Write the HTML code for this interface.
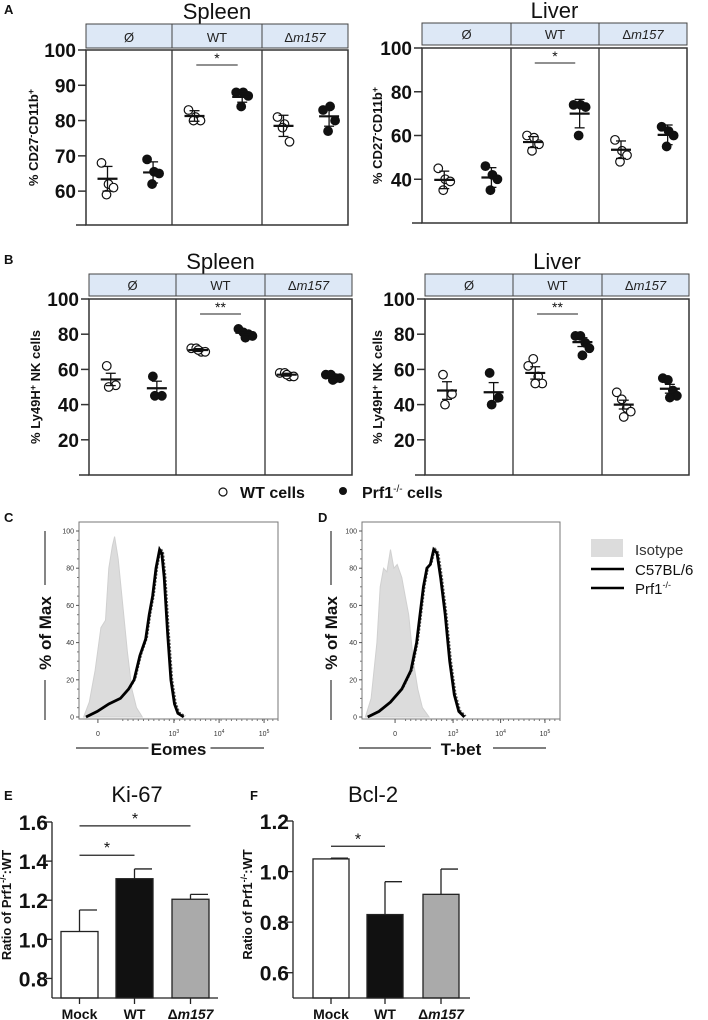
<!DOCTYPE html>
<html><head><meta charset="utf-8"><style>
body{margin:0;background:#fff;}
svg{display:block;font-family:"Liberation Sans",Arial,sans-serif;}
</style></head><body>
<svg id="fig" width="708" height="1020" viewBox="0 0 708 1020" xmlns="http://www.w3.org/2000/svg"></svg>
<script>
// ---------- Panel A/B scatter data ----------
const groupLabels = ["Ø", "WT", "Δm157"];
const aSpleenOpen = [[68, 62, 61, 59], [83, 81, 80, 80], [81, 79, 74, 78]];
const aSpleenFilled = [[69, 65.5, 65, 62], [88, 88, 87, 84], [83, 84, 80, 77]];
const aSpleenOpenMean = [63.5, 81.3, 78.5];
const aSpleenOpenErr = [3.5, 1.5, 3];
const aSpleenFilledMean = [65.3, 86.7, 81.2];
const aSpleenFilledErr = [3, 1.5, 2.8];
const aLiverOpen = [[45, 40, 39, 35], [60, 59, 56, 53], [58, 53, 51, 48]];
const aLiverFilled = [[46, 42, 40, 35], [74, 74, 73, 60], [64, 62, 60, 55]];
const aLiverOpenMean = [39.7, 57, 53.5];
const aLiverOpenErr = [4, 2.5, 4];
const aLiverFilledMean = [40.8, 70, 60.3];
const aLiverFilledErr = [4.5, 6.5, 4.5];
const bSpleenOpen = [[62, 51, 50], [72, 72, 70, 70, 71], [58, 58, 56, 56, 57]];
const bSpleenFilled = [[56, 45, 45], [83, 81, 80, 79, 78], [57, 57, 55, 55, 54]];
const bSpleenOpenMean = [54.3, 71, 57];
const bSpleenOpenErr = [3.5, 0.8, 0.8];
const bSpleenFilledMean = [49.3, 80.8, 56];
const bSpleenFilledErr = [4, 1, 0.6];
const bLiverOpen = [[57, 46, 40], [62, 66, 56, 52, 52], [47, 43, 38, 36, 33]];
const bLiverFilled = [[58, 44, 40], [79, 79, 75, 72, 68], [55, 54, 48, 45, 44]];
const bLiverOpenMean = [48, 58, 40];
const bLiverOpenErr = [5, 3.5, 2.5];
const bLiverFilledMean = [47, 75.5, 49];
const bLiverFilledErr = [5.5, 2.5, 2.5];
const aSpleenTicks = [60, 70, 80, 90, 100];
const aLiverTicks = [40, 60, 80, 100];
const bTicks = [20, 40, 60, 80, 100];

// ---------- Histogram data (channel 0-100 across axis, % of max) ----------
const cIsoX = [2.3, 5.2, 8.1, 11, 13.3, 15, 16.8, 17.9, 19.7, 22, 24.3, 26.6, 28.9, 31.8];
const cIsoY = [0, 8, 25, 48, 52, 80, 92, 97, 85, 60, 35, 15, 5, 0];
const cStainX = [3.5, 9.2, 15, 20.8, 24.9, 27.7, 30.6, 33.5, 35.3, 37, 38.7, 40.5, 41.6, 42.8, 44.5, 46.2, 48, 49.7, 52.6];
const cStainY = [0, 3, 7, 10, 15, 20, 33, 42, 55, 65, 80, 90, 88, 75, 45, 20, 7, 2, 0];
const dIsoX = [1.7, 4.6, 7.5, 9.2, 10.9, 12.6, 14.4, 16.1, 17.8, 20.1, 21.8, 23.6, 25.9, 28.2, 30.5, 33.9];
const dIsoY = [0, 10, 40, 70, 80, 78, 90, 80, 82, 75, 65, 55, 30, 15, 5, 0];
const dStainX = [2.9, 8.6, 14.4, 20.1, 24.7, 27.6, 29.3, 31, 32.8, 34.5, 36.2, 37.9, 39.7, 42, 44.3, 46.6, 48.9, 51.7];
const dStainY = [0, 3, 8, 15, 25, 40, 55, 70, 80, 82, 90, 88, 75, 55, 30, 12, 3, 0];
const histTicks = [0, 20, 40, 60, 80, 100];

// ---------- Bar data ----------
const barCats = ["Mock", "WT", "Δm157"];
const ki67Values = [1.04, 1.31, 1.205];
const ki67Err = [0.11, 0.05, 0.025];
const ki67Ticks = [0.8, 1.0, 1.2, 1.4, 1.6];
const bcl2Values = [1.05, 0.83, 0.91];
const bcl2Err = [0.003, 0.13, 0.1];
const bcl2Ticks = [0.6, 0.8, 1.0, 1.2];

const NS = "http://www.w3.org/2000/svg";
const svg = document.getElementById("fig");
function mk(tag, attrs, parent, text) {
  const e = document.createElementNS(NS, tag);
  for (const k in attrs) e.setAttribute(k, attrs[k]);
  if (text !== undefined) e.textContent = text;
  (parent || svg).appendChild(e);
  return e;
}
function txt(x, y, s, size, opts, parent) {
  const a = Object.assign({x: x, y: y, "font-size": size, fill: "#111"}, opts || {});
  return mk("text", a, parent, s);
}

const jitter = {3: [-4, 5, -2], 4: [-6, 1, 6, -1], 5: [-7, -2, 3, 7, 0]};

function scatterPanel(name, cfg) {
  const g = mk("g", {});
  
  
  const {x0, x1, hy0, hy1, py0, py1, dmin, dmax, ticks, title, ytitle, divs} = cfg;
  const ys = v => py1 - (v - dmin) / (dmax - dmin) * (py1 - py0);
  const t = txt((x0 + x1) / 2, hy0 - 5, title, 22, {"text-anchor": "middle"}, g);
  
  
  const bounds = [x0, divs[0], divs[1], x1];
  for (let i = 0; i < 3; i++) {
    const r = mk("rect", {x: bounds[i], y: hy0, width: bounds[i + 1] - bounds[i], height: hy1 - hy0, fill: "#dde8f6", stroke: "#444", "stroke-width": 1}, g);
    
    
    const lab = groupLabels[i];
    const cx = (bounds[i] + bounds[i + 1]) / 2;
    const tl = mk("text", {x: cx, y: hy1 - 6, "font-size": 13, "text-anchor": "middle", fill: "#222"}, g);
    
    
    if (lab.startsWith("Δ")) {
      mk("tspan", {}, tl, "Δ");
      mk("tspan", {"font-style": "italic"}, tl, lab.slice(1));
    } else tl.textContent = lab;
  }
  const box = mk("rect", {x: x0, y: py0, width: x1 - x0, height: py1 - py0, fill: "none", stroke: "#333", "stroke-width": 1.5}, g);
  
  
  divs.forEach(d => {
    const l = mk("line", {x1: d, x2: d, y1: py0, y2: py1, stroke: "#333", "stroke-width": 1.3}, g);
    
    
  });
  mk("line", {x1: x0 - 10, x2: x0, y1: py1, y2: py1, stroke: "#333", "stroke-width": 1.5}, g);
  ticks.forEach(v => {
    const y = ys(v);
    mk("line", {x1: x0 - 8, x2: x0, y1: y, y2: y, stroke: "#333", "stroke-width": 1.5}, g);
    const tk = txt(x0 - 10, y + 7, String(v), 19, {"text-anchor": "end", "font-weight": "bold"}, g);
    
    
  });
  const yt = mk("text", {x: 0, y: 0, "font-size": 13, "font-weight": "bold", "text-anchor": "middle", fill: "#111", transform: `translate(${cfg.ytx},${(py0 + py1) / 2}) rotate(-90)`}, g);
  
  
  ytitle.forEach(p => mk("tspan", {"font-size": p[2], dy: p[1]}, yt, p[0]));
  const series = [[cfg.open, cfg.openMean, cfg.openErr, 0.25, false], [cfg.filled, cfg.filledMean, cfg.filledErr, 0.78, true]];
  for (let i = 0; i < 3; i++) {
    const w = bounds[i + 1] - bounds[i];
    series.forEach(([pts, mean, err, frac, filled]) => {
      const cx = bounds[i] + w * frac;
      const arr = pts[i];
      const jt = jitter[arr.length];
      arr.forEach((v, k) => {
        const c = mk("circle", {cx: cx + jt[k], cy: ys(v), r: 4.3, fill: filled ? "#111" : "#fff", stroke: "#111", "stroke-width": 1.2}, g);
        
        
      });
      const my = ys(mean[i]);
      const ml = mk("line", {x1: cx - 10, x2: cx + 10, y1: my, y2: my, stroke: "#111", "stroke-width": 2.2}, g);
      
      
      const e1 = ys(mean[i] + err[i]), e2 = ys(mean[i] - err[i]);
      mk("line", {x1: cx, x2: cx, y1: e1, y2: e2, stroke: "#111", "stroke-width": 1.3}, g);
      mk("line", {x1: cx - 5, x2: cx + 5, y1: e1, y2: e1, stroke: "#111", "stroke-width": 1.3}, g);
      mk("line", {x1: cx - 5, x2: cx + 5, y1: e2, y2: e2, stroke: "#111", "stroke-width": 1.3}, g);
    });
  }
  const w = divs[1] - divs[0];
  const sy = py0 + 15;
  mk("line", {x1: divs[0] + w * 0.27, x2: divs[0] + w * 0.73, y1: sy, y2: sy, stroke: "#222", "stroke-width": 1}, g);
  const st = txt(divs[0] + w / 2, sy - 2, cfg.sig, 14, {"text-anchor": "middle"}, g);
  
  
}

const ytA = [["% CD27", 0, 13], ["-", -4, 9], ["CD11b", 4, 13], ["+", -4, 9]];
const ytB = [["% Ly49H", 0, 13], ["+", -4, 9], [" NK cells", 4, 13]];
scatterPanel("panel-a-spleen", {x0: 86, x1: 348, hy0: 24, hy1: 48, py0: 50, py1: 225, dmin: 50.4, dmax: 100, ticks: aSpleenTicks, title: "Spleen", ytitle: ytA, ytx: 38, divs: [172, 262], open: aSpleenOpen, filled: aSpleenFilled, openMean: aSpleenOpenMean, openErr: aSpleenOpenErr, filledMean: aSpleenFilledMean, filledErr: aSpleenFilledErr, sig: "*"});
scatterPanel("panel-a-liver", {x0: 422, x1: 687, hy0: 23, hy1: 45, py0: 48, py1: 223, dmin: 20, dmax: 100, ticks: aLiverTicks, title: "Liver", ytitle: ytA, ytx: 382, divs: [511, 599], open: aLiverOpen, filled: aLiverFilled, openMean: aLiverOpenMean, openErr: aLiverOpenErr, filledMean: aLiverFilledMean, filledErr: aLiverFilledErr, sig: "*"});
scatterPanel("panel-b-spleen", {x0: 89, x1: 352, hy0: 274, hy1: 296, py0: 299, py1: 475, dmin: 0, dmax: 100, ticks: bTicks, title: "Spleen", ytitle: ytB, ytx: 40, divs: [176, 265], open: bSpleenOpen, filled: bSpleenFilled, openMean: bSpleenOpenMean, openErr: bSpleenOpenErr, filledMean: bSpleenFilledMean, filledErr: bSpleenFilledErr, sig: "**"});
scatterPanel("panel-b-liver", {x0: 425, x1: 689, hy0: 274, hy1: 296, py0: 299, py1: 475, dmin: 0, dmax: 100, ticks: bTicks, title: "Liver", ytitle: ytB, ytx: 382, divs: [513, 602], open: bLiverOpen, filled: bLiverFilled, openMean: bLiverOpenMean, openErr: bLiverOpenErr, filledMean: bLiverFilledMean, filledErr: bLiverFilledErr, sig: "**"});

[["A", 4, 14], ["B", 4, 264], ["C", 4, 522], ["D", 318, 522], ["E", 4, 800], ["F", 250, 800]].forEach(([s, x, y]) => {
  const t = txt(x, y, s, 13, {"font-weight": "bold"});
  
  
});

const lg = mk("g", {});


mk("circle", {cx: 223, cy: 492, r: 4, fill: "#fff", stroke: "#111", "stroke-width": 1.2}, lg);
txt(240, 498, "WT cells", 16, {"font-weight": "bold"}, lg);
mk("circle", {cx: 343, cy: 491, r: 4, fill: "#111"}, lg);
const pl = txt(362, 498, "Prf1", 16, {"font-weight": "bold"}, lg);
mk("tspan", {"font-size": 10, dy: -6, "font-weight": "normal"}, pl, "-/-");
mk("tspan", {dy: 6}, pl, " cells");

// ---------- histograms ----------
function histPanel(name, cfg) {
  const g = mk("g", {});
  
  
  const {x0, x1, y0, y1, xlabel} = cfg;
  const ys = v => 717 - v / 100 * (717 - 531);
  const xs = c => x0 + c / 100 * (x1 - x0);
  const poly = (X, Y) => X.map((c, i) => `${xs(c).toFixed(1)},${ys(Y[i]).toFixed(1)}`).join(" ");
  const iso = mk("polygon", {points: poly(cfg.isoX, cfg.isoY), fill: "#dcdcdc", stroke: "#d0d0d0"}, g);
  
  
  const l1 = mk("polyline", {points: poly(cfg.stX, cfg.stY), fill: "none", stroke: "#555", "stroke-width": 1.5, "stroke-dasharray": "2 1.5", transform: "translate(1.5,-1)"}, g);
  
  
  const l2 = mk("polyline", {points: poly(cfg.stX, cfg.stY), fill: "none", stroke: "#000", "stroke-width": 2.8}, g);
  
  
  const fr = mk("rect", {x: x0, y: y0, width: x1 - x0, height: y1 - y0, fill: "none", stroke: "#777", "stroke-width": 1}, g);
  
  
  histTicks.forEach(v => {
    mk("line", {x1: x0 - 3, x2: x0, y1: ys(v), y2: ys(v), stroke: "#555"}, g);
    txt(x0 - 5, ys(v) + 2.5, String(v), 7, {"text-anchor": "end", fill: "#333"}, g);
  });
  for (let v = 5; v < 100; v += 5) if (v % 20) mk("line", {x1: x0 - 2, x2: x0, y1: ys(v), y2: ys(v), stroke: "#777"}, g);
  cfg.xticks.forEach(([c, lab, sup]) => {
    const x = xs(c);
    mk("line", {x1: x, x2: x, y1: y1, y2: y1 + 4, stroke: "#555"}, g);
    const t = txt(x, y1 + 17, lab, 7, {"text-anchor": "middle", fill: "#333"}, g);
    if (sup) mk("tspan", {"font-size": 5, dy: -3}, t, sup);
  });
  for (let c = 22; c < 100; c += 2.6) mk("line", {x1: xs(c), x2: xs(c), y1: y1, y2: y1 + 2, stroke: "#777"}, g);
  const yt = txt(0, 0, "% of Max", 17, {"font-weight": "bold", "text-anchor": "middle", transform: `translate(${cfg.ytx + 6},633) rotate(-90)`}, g);
  
  
  mk("line", {x1: cfg.ytx, x2: cfg.ytx, y1: 531, y2: 585, stroke: "#333", "stroke-width": 1.2}, g);
  mk("line", {x1: cfg.ytx, x2: cfg.ytx, y1: 680, y2: 720, stroke: "#333", "stroke-width": 1.2}, g);
  const xc = (x0 + x1) / 2;
  const xt = txt(xc, 755, xlabel, 17, {"font-weight": "bold", "text-anchor": "middle"}, g);
  
  
  mk("line", {x1: x0 - 3, x2: xc - 30, y1: 748, y2: 748, stroke: "#333", "stroke-width": 1.2}, g);
  mk("line", {x1: xc + 32, x2: x1 - 14, y1: 748, y2: 748, stroke: "#333", "stroke-width": 1.2}, g);
}
histPanel("panel-c-eomes", {x0: 79, x1: 278, y0: 522, y1: 719, xlabel: "Eomes", ytx: 45, isoX: cIsoX, isoY: cIsoY, stX: cStainX, stY: cStainY, xticks: [[9.5, "0"], [47.7, "10", "3"], [70.4, "10", "4"], [93, "10", "5"]]});
histPanel("panel-d-tbet", {x0: 362, x1: 560, y0: 522, y1: 719, xlabel: "T-bet", ytx: 331, isoX: dIsoX, isoY: dIsoY, stX: dStainX, stY: dStainY, xticks: [[16.7, "0"], [46, "10", "3"], [70, "10", "4"], [92.4, "10", "5"]]});

const hl = mk("g", {});


mk("rect", {x: 591, y: 539, width: 32, height: 18, fill: "#dcdcdc"}, hl);
txt(635, 555, "Isotype", 15, {fill: "#333"}, hl);
mk("line", {x1: 591, x2: 624, y1: 569, y2: 569, stroke: "#000", "stroke-width": 2.5}, hl);
txt(635, 575, "C57BL/6", 15, {fill: "#111"}, hl);
mk("line", {x1: 591, x2: 624, y1: 588, y2: 588, stroke: "#000", "stroke-width": 2.5}, hl);
const pt = txt(635, 594, "Prf1", 15, {fill: "#111"}, hl);
mk("tspan", {"font-size": 9, dy: -6}, pt, "-/-");

// ---------- bar charts ----------
function barPanel(name, cfg) {
  const g = mk("g", {});
  
  
  const {ax, axEnd, top, bot, dmin, dmax, values, errs, ticks, barX, barW, title, titleX} = cfg;
  const ys = v => bot - (v - dmin) / (dmax - dmin) * (bot - top);
  const tt = txt(titleX, 802, title, 22, {"text-anchor": "middle"}, g);
  
  
  const fills = ["#fff", "#111", "#aaa"];
  values.forEach((v, i) => {
    const x = barX[i];
    const cx = x + barW / 2;
    const et = ys(v + errs[i]);
    mk("line", {x1: cx, x2: cx, y1: ys(v), y2: et, stroke: "#222", "stroke-width": 1.3}, g);
    mk("line", {x1: cx, x2: x + barW - 1, y1: et, y2: et, stroke: "#222", "stroke-width": 1.3}, g);
    const b = mk("rect", {x: x, y: ys(v), width: barW, height: bot - ys(v), fill: fills[i], stroke: "#222", "stroke-width": 1.3}, g);
    
    
    mk("line", {x1: cx, x2: cx, y1: bot, y2: bot + 6, stroke: "#222", "stroke-width": 1.3}, g);
    const lab = barCats[i];
    const tl = mk("text", {x: cx, y: bot + 21, "font-size": 14, "font-weight": "bold", "text-anchor": "middle", fill: "#111"}, g);
    
    
    if (lab.startsWith("Δ")) { mk("tspan", {}, tl, "Δ"); mk("tspan", {"font-style": "italic"}, tl, lab.slice(1)); }
    else tl.textContent = lab;
  });
  mk("line", {x1: ax, x2: ax, y1: top, y2: bot, stroke: "#222", "stroke-width": 1.3}, g);
  mk("line", {x1: ax, x2: axEnd, y1: bot, y2: bot, stroke: "#222", "stroke-width": 1.3}, g);
  ticks.forEach(v => {
    mk("line", {x1: ax - 6, x2: ax, y1: ys(v), y2: ys(v), stroke: "#222", "stroke-width": 1.3}, g);
    const tk = txt(ax - 4, ys(v) + 8, v.toFixed(1), 21, {"text-anchor": "end", "font-weight": "bold"}, g);
    
    
  });
  const yt = mk("text", {x: 0, y: 0, "font-size": 13, "font-weight": "bold", "text-anchor": "middle", fill: "#111", transform: `translate(${ax - 41},${(top + bot) / 2 - 5}) rotate(-90)`}, g);
  
  
  mk("tspan", {}, yt, "Ratio of Prf1");
  mk("tspan", {"font-size": 9, dy: -5}, yt, "-/-");
  mk("tspan", {dy: 5, "font-size": 13}, yt, ":WT");
  cfg.sigs.forEach(([a, b, yv]) => {
    const x1 = barX[a] + barW / 2, x2 = barX[b] + barW / 2, y = ys(yv);
    mk("line", {x1: x1, x2: x2, y1: y, y2: y, stroke: "#222", "stroke-width": 1.2}, g);
    const s = txt((x1 + x2) / 2, y - 2, "*", 16, {"text-anchor": "middle"}, g);
    
    
  });
}
barPanel("panel-e-ki67", {ax: 52, axEnd: 218, top: 822, bot: 998, dmin: 0.7, dmax: 1.6, values: ki67Values, errs: ki67Err, ticks: ki67Ticks, barX: [61, 116, 172], barW: 37, title: "Ki-67", titleX: 137, sigs: [[0, 1, 1.43], [0, 2, 1.58]]});
barPanel("panel-f-bcl2", {ax: 293, axEnd: 470, top: 821, bot: 998, dmin: 0.5, dmax: 1.2, values: bcl2Values, errs: bcl2Err, ticks: bcl2Ticks, barX: [313, 367, 423], barW: 36, title: "Bcl-2", titleX: 373, sigs: [[0, 1, 1.1]]});
</script>
</body></html>
